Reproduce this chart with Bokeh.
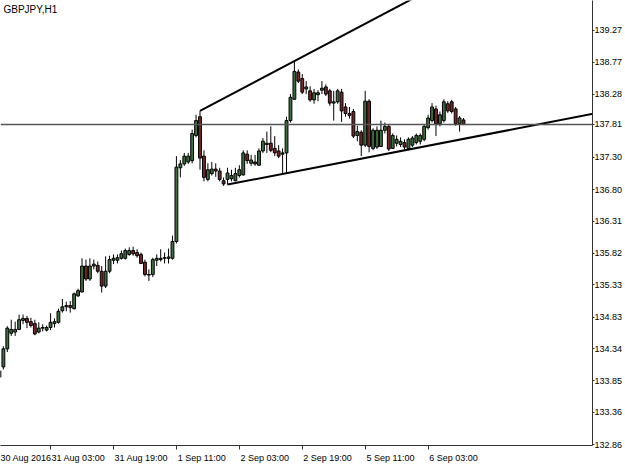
from bokeh.plotting import figure
from bokeh.models import (Range1d, FixedTicker, Span, Label, ColumnDataSource,
                          PrintfTickFormatter, LinearAxis)
from bokeh.embed import file_html
from bokeh.resources import INLINE

symbol_title = "GBPJPY,H1"

opens = [133.90, 134.06, 134.34, 134.58, 134.60, 134.64, 134.78, 134.81, 134.76, 134.73,
         134.60, 134.66, 134.63, 134.67, 134.73, 134.75, 134.93, 134.99, 135.01, 134.96,
         135.16, 135.22, 135.62, 135.42, 135.62, 135.63, 135.54, 135.31, 135.54, 135.71,
         135.71, 135.74, 135.74, 135.80, 135.86, 135.83, 135.80, 135.68, 135.48, 135.49,
         135.71, 135.72, 135.74, 135.74, 135.74, 136.00, 137.14, 137.20, 137.23, 137.25,
         137.64, 137.93, 137.32, 136.96, 137.05, 137.12, 137.09, 136.94, 136.96, 136.97,
         136.94, 137.02, 137.03, 137.35, 137.21, 137.23, 137.18, 137.40, 137.50, 137.52,
         137.44, 137.40, 137.35, 137.37, 137.87, 138.20, 138.62, 138.52, 138.36, 138.33,
         138.19, 138.27, 138.34, 138.39, 138.33, 138.14, 138.16, 138.31, 138.08, 137.98,
         138.01, 137.64, 137.69, 137.49, 138.17, 137.44, 137.46, 137.47, 137.72, 137.78,
         137.44, 137.52, 137.50, 137.53, 137.44, 137.49, 137.53, 137.55, 137.58, 137.76,
         137.87, 138.05, 137.82, 137.87, 138.13, 138.16, 138.05, 137.82, 137.88]
highs = [134.06, 134.38, 134.69, 134.79, 134.76, 134.87, 134.87, 134.85, 134.82, 134.79,
         134.75, 134.72, 134.70, 134.89, 134.81, 134.96, 135.11, 135.07, 135.08, 135.21,
         135.27, 135.74, 135.72, 135.74, 135.72, 135.69, 135.62, 135.77, 135.78, 135.80,
         135.80, 135.86, 135.89, 135.91, 135.92, 135.88, 135.83, 135.72, 135.57, 135.75,
         135.80, 135.88, 135.83, 135.89, 136.09, 137.32, 137.26, 137.37, 137.37, 137.73,
         137.96, 138.02, 137.41, 137.21, 137.23, 137.21, 137.14, 136.99, 137.14, 137.11,
         137.14, 137.18, 137.41, 137.41, 137.34, 137.34, 137.44, 137.60, 137.70, 137.78,
         137.63, 137.49, 137.44, 137.93, 138.28, 138.80, 138.66, 138.59, 138.48, 138.40,
         138.36, 138.34, 138.48, 138.43, 138.36, 138.33, 138.36, 138.36, 138.14, 138.08,
         138.05, 137.79, 137.72, 138.33, 138.20, 137.75, 137.78, 137.87, 137.84, 137.81,
         137.67, 137.64, 137.61, 137.58, 137.61, 137.63, 137.67, 137.67, 137.81, 137.96,
         138.14, 138.10, 138.01, 138.20, 138.17, 138.19, 138.08, 137.94, 137.91]
lows = [133.83, 134.02, 134.29, 134.54, 134.54, 134.63, 134.72, 134.66, 134.67, 134.55,
        134.58, 134.61, 134.61, 134.63, 134.67, 134.73, 134.90, 134.92, 134.90, 134.95,
        135.14, 135.21, 135.39, 135.39, 135.57, 135.51, 135.21, 135.28, 135.51, 135.65,
        135.66, 135.72, 135.72, 135.78, 135.78, 135.75, 135.65, 135.46, 135.39, 135.45,
        135.62, 135.69, 135.66, 135.66, 135.72, 135.97, 136.99, 137.17, 137.20, 137.21,
        137.61, 137.11, 136.93, 136.93, 137.02, 137.00, 136.93, 136.86, 136.88, 136.93,
        136.93, 136.99, 137.02, 137.20, 137.17, 137.17, 137.17, 137.37, 137.37, 137.38,
        137.32, 137.29, 137.06, 137.06, 137.84, 138.19, 138.45, 138.28, 138.28, 138.16,
        138.13, 138.17, 138.28, 138.25, 138.10, 137.87, 138.13, 137.85, 137.93, 137.90,
        137.60, 137.55, 137.32, 137.46, 137.38, 137.41, 137.43, 137.46, 137.67, 137.40,
        137.43, 137.47, 137.46, 137.41, 137.41, 137.46, 137.50, 137.50, 137.55, 137.73,
        137.84, 137.63, 137.78, 137.84, 137.99, 137.98, 137.79, 137.70, 137.80]
closes = [134.00, 134.34, 134.66, 134.64, 134.64, 134.79, 134.81, 134.75, 134.70, 134.57,
          134.66, 134.67, 134.67, 134.75, 134.76, 134.92, 134.99, 135.01, 134.98, 135.19,
          135.24, 135.62, 135.42, 135.62, 135.65, 135.54, 135.31, 135.54, 135.72, 135.74,
          135.75, 135.81, 135.86, 135.86, 135.81, 135.78, 135.66, 135.49, 135.49, 135.72,
          135.74, 135.74, 135.75, 135.76, 136.00, 137.15, 137.20, 137.32, 137.32, 137.67,
          137.87, 137.29, 136.99, 137.11, 137.12, 137.09, 136.96, 136.89, 137.06, 137.02,
          137.05, 137.11, 137.37, 137.25, 137.26, 137.20, 137.40, 137.55, 137.52, 137.41,
          137.37, 137.32, 137.37, 137.87, 138.23, 138.63, 138.48, 138.31, 138.39, 138.19,
          138.30, 138.30, 138.37, 138.28, 138.14, 138.16, 138.33, 138.02, 137.98, 137.95,
          137.63, 137.70, 137.49, 138.17, 137.47, 137.72, 137.72, 137.72, 137.78, 137.43,
          137.64, 137.58, 137.55, 137.46, 137.58, 137.60, 137.64, 137.64, 137.78, 137.91,
          138.08, 137.82, 137.96, 138.16, 138.02, 138.01, 137.82, 137.91, 137.81]

# time axis: bar index of each labelled hour
tick_index = [-3, 13, 29, 45, 61, 77, 93, 109]
tick_labels = ["30 Aug 2016", "31 Aug 03:00", "31 Aug 19:00", "1 Sep 11:00", "2 Sep 03:00",
               "2 Sep 19:00", "5 Sep 11:00", "6 Sep 03:00"]

price_ticks = [132.86, 133.36, 133.85, 134.34, 134.83, 135.33, 135.82, 136.31,
               136.80, 137.30, 138.28, 138.77, 139.27]
last_price = 137.81

# trend lines: two anchor points each (bar index, price), drawn as rays to the right
upper_x = [51, 75]
upper_y = [138.02, 138.79]
lower_x = [58, 103]
lower_y = [136.88, 137.41]

X_START, X_END = 0.27, 150.8
Y_START, Y_END = 132.845, 139.727
FRAME_W = 591

FONT = "Liberation Sans"
FONT_PX = 9

p = figure(width=625, height=465, output_backend="svg", toolbar_location=None,
           x_range=Range1d(X_START, X_END), y_range=Range1d(Y_START, Y_END),
           y_axis_location="right", x_axis_location=None, min_border=0, min_border_left=0,
           min_border_top=0, min_border_right=0, min_border_bottom=0)
p.outline_line_color = None
p.grid.visible = False
p.background_fill_color = "white"
p.border_fill_color = "white"

n = len(opens)
xs = list(range(n))
bull = [c >= o for o, c in zip(opens, closes)]
src = ColumnDataSource(dict(
    x=xs, o=opens, h=highs, l=lows, c=closes,
    top=[max(o, c) for o, c in zip(opens, closes)],
    bot=[min(o, c) for o, c in zip(opens, closes)],
    color=["#3e6e3e" if b else "#7a2626" for b in bull],
))

# current price line
p.add_layout(Span(location=last_price, dimension="width", line_color="#555555", line_width=1.5))

p.segment(x0="x", y0="h", x1="x", y1="l", source=src, line_color="black", line_width=1)
p.vbar(x="x", width=0.72, top="top", bottom="bot", source=src,
       fill_color="color", line_color="black", line_width=1)

def ray(xa, ya):
    slope = (ya[1] - ya[0]) / (xa[1] - xa[0])
    return [xa[0], X_END + 5], [ya[0], ya[0] + slope * (X_END + 5 - xa[0])]

ux, uy = ray(upper_x, upper_y)
lx, ly = ray(lower_x, lower_y)
p.line(ux, uy, line_color="black", line_width=2)
p.line(lx, ly, line_color="black", line_width=2)

# right price axis (current price shown among the tick labels)
ya = p.yaxis[0]
ya.ticker = FixedTicker(ticks=sorted(price_ticks + [last_price]))
ya.formatter = PrintfTickFormatter(format="%.2f")
ya.major_label_text_font = FONT
ya.major_label_text_font_size = "%dpx" % FONT_PX
ya.major_label_text_color = "black"
ya.major_tick_in = 0
ya.major_tick_out = 2
ya.minor_tick_in = 0
ya.minor_tick_out = 0
ya.major_label_standoff = 0
ya.axis_line_color = "#333333"
ya.major_tick_line_color = "#333333"

# time axis: tick marks at the bars (minor ticks), labels placed to start at each mark
W = {"0123456789": 0.556, " :": 0.278, "A": 0.667, "S": 0.667}
def text_px(s):
    tot = 0.0
    for ch in s:
        w = 0.556
        for k, v in W.items():
            if ch in k:
                w = v
        tot += w
    return tot * FONT_PX

px_per_bar = FRAME_W / (X_END - X_START)
label_pos = [t + (text_px(s) / 2 + 1) / px_per_bar for t, s in zip(tick_index, tick_labels)]

xa = LinearAxis(ticker=FixedTicker(ticks=label_pos, minor_ticks=tick_index))
xa.major_label_overrides = {v: s for v, s in zip(label_pos, tick_labels)}
xa.major_label_text_font = FONT
xa.major_label_text_font_size = "%dpx" % FONT_PX
xa.major_label_text_color = "black"
xa.major_label_standoff = 3
xa.major_tick_in = 0
xa.major_tick_out = 0
xa.minor_tick_in = 0
xa.minor_tick_out = 4
xa.axis_line_color = "#333333"
xa.minor_tick_line_color = "#333333"
xa.minor_tick_line_width = 1
p.add_layout(xa, "below")

p.add_layout(Label(x=X_START, y=Y_END, x_offset=3, y_offset=-3, text=symbol_title,
                   text_font=FONT, text_font_size="10px", text_baseline="top",
                   text_color="black"))

open("out.html", "w").write(file_html(p, INLINE))
